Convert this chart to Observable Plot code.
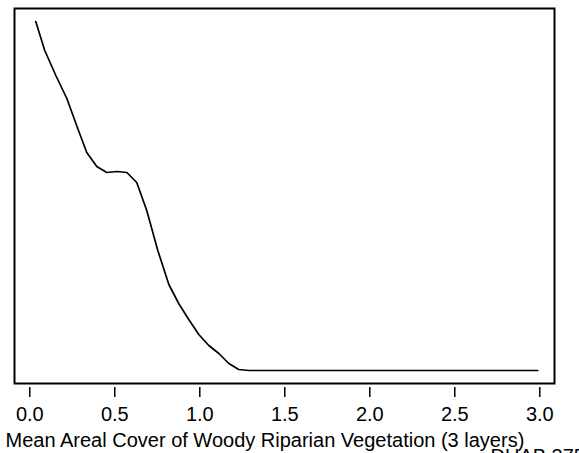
<!DOCTYPE html>
<html>
<head>
<meta charset="utf-8">
<script src="https://cdn.jsdelivr.net/npm/d3@7"></script>
<script src="https://cdn.jsdelivr.net/npm/@observablehq/plot@0.6"></script>
<style>
  html, body { margin: 0; padding: 0; background: #fff; }
  #chart { width: 579px; height: 453px; overflow: hidden; }
</style>
</head>
<body>
<div id="chart"></div>
<script>
// Mean areal cover (x) and relative response (y, unitless)
const cover = [0.035, 0.088, 0.153, 0.218, 0.282, 0.335, 0.394, 0.453, 0.512, 0.571, 0.629, 0.688, 0.753, 0.818, 0.876, 0.935, 0.994, 1.053, 1.112, 1.171, 1.229, 1.288, 1.5, 2.0, 2.5, 2.988];
const response = [362, 333, 308, 285, 255, 231, 217, 211, 212, 211, 201, 173, 133, 99, 80, 64, 49, 38, 30, 20, 14, 13, 13, 13, 13, 13];
const xTicks = [0, 0.5, 1.0, 1.5, 2.0, 2.5, 3.0];
const xTitle = "Mean Areal Cover of Woody Riparian Vegetation (3 layers)";
const stamp = "DUAB 375";

const data = cover.map((c, i) => ({x: c, y: response[i]}));

const plot = Plot.plot({
  width: 579,
  height: 453,
  marginLeft: 14,
  marginRight: 25,
  marginTop: 8,
  marginBottom: 70,
  style: {background: "#fff", fontFamily: "'Liberation Sans', Arial, sans-serif", color: "#000"},
  x: {domain: [-0.09, 3.0865]},
  y: {domain: [0, 375]},
  marks: [
    Plot.line(data, {x: "x", y: "y", stroke: "#000", strokeWidth: 1.7}),
    Plot.frame({stroke: "#000", strokeWidth: 2}),
    Plot.axisX({ticks: xTicks, tickSize: 10, dy: 4, tickPadding: 9, tickFormat: d3.format(".1f"), fontSize: 20, label: null, stroke: "#000", strokeWidth: 1.5}),
    Plot.axisY({ticks: [], label: null}),
    Plot.text([xTitle], {frameAnchor: "bottom-left", dx: -9, dy: 63, textAnchor: "start", fontSize: 20, fill: "#000"}),
    Plot.text([stamp], {frameAnchor: "bottom-left", dx: 476, dy: 79, textAnchor: "start", fontSize: 20, fill: "#000"})
  ]
});
document.getElementById("chart").appendChild(plot);
</script>
</body>
</html>
